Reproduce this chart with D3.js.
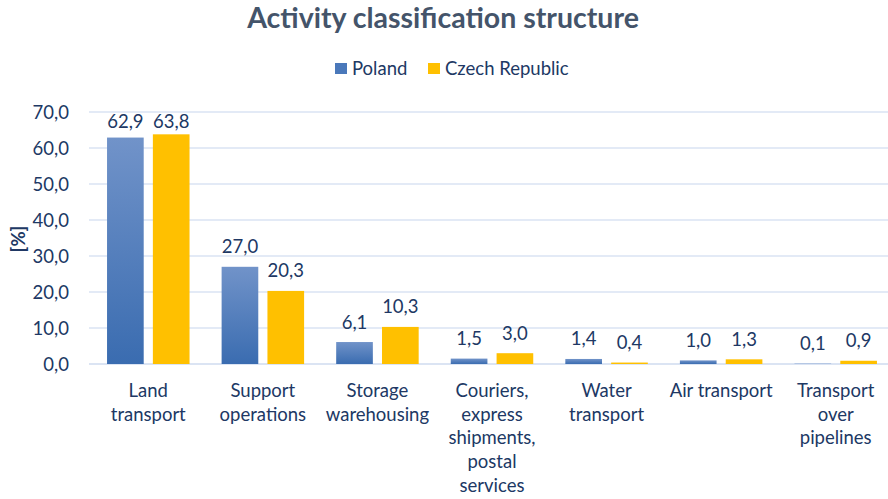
<!DOCTYPE html>
<html>
<head>
<meta charset="utf-8">
<style>
  body { margin: 0; background: #fff; }
  svg { font-family: Lato, "Noto Sans", sans-serif; }
  .title { fill: #44546a; font-weight: bold; font-size: 28.5px; text-anchor: middle; }
  .tick-lbl, .val, .cat, .leg { fill: #203864; font-size: 18.5px; }
</style>
</head>
<body>
<script src="https://d3js.org/d3.v7.min.js"></script>
<script>
var categories = [
  ["Land", "transport"],
  ["Support", "operations"],
  ["Storage", "warehousing"],
  ["Couriers,", "express", "shipments,", "postal", "services"],
  ["Water", "transport"],
  ["Air transport"],
  ["Transport", "over", "pipelines"]
];
var seriesNames = ["Poland", "Czech Republic"];
var poland = [62.9, 27.0, 6.1, 1.5, 1.4, 1.0, 0.1];
var czech = [63.8, 20.3, 10.3, 3.0, 0.4, 1.3, 0.9];
var yTicks = [0, 10, 20, 30, 40, 50, 60, 70];

var W = 888, H = 499;
var plot = {left: 91, right: 893, top: 112, bottom: 364};

var svg = d3.select("body").append("svg")
    .attr("width", W).attr("height", H);

var defs = svg.append("defs");
var grad = defs.append("linearGradient").attr("id", "blueGrad")
    .attr("x1", 0).attr("y1", 0).attr("x2", 0).attr("y2", 1);
grad.append("stop").attr("offset", "0%").attr("stop-color", "#7193c9");
grad.append("stop").attr("offset", "100%").attr("stop-color", "#3a6cb0");

var idx = d3.range(categories.length);
var x = d3.scaleBand().domain(idx).range([plot.left, plot.right]).paddingInner(0.28).paddingOuter(0.14);
var x1 = d3.scaleBand().domain([0, 1]).range([0, x.bandwidth()]).paddingInner(0.2);
var y = d3.scaleLinear().domain([0, 70]).range([plot.bottom, plot.top]);
var colors = ["url(#blueGrad)", "#ffc000"];
var fmt = function(v) { return v.toFixed(1).replace(".", ","); };

// title
svg.append("text").attr("class", "title").attr("x", 443).attr("y", 28)
    .text("Activity classification structure");

// legend
var leg = svg.append("g");
var legX = [335, 428];
seriesNames.forEach(function(n, i) {
  leg.append("rect").attr("x", legX[i]).attr("y", 63).attr("width", 12).attr("height", 11)
     .attr("fill", i === 0 ? "#4a78ba" : "#ffc000");
  leg.append("text").attr("class", "leg").attr("x", legX[i] + 17).attr("y", 75).text(n);
});

// gridlines
svg.append("g").selectAll("line").data(yTicks).join("line")
    .attr("x1", plot.left - 2).attr("x2", W)
    .attr("y1", function(d) { return y(d); }).attr("y2", function(d) { return y(d); })
    .attr("stroke", function(d) { return d === 0 ? "#cfdbef" : "#dae3f3"; })
    .attr("stroke-width", 1.5);

// y tick labels
svg.append("g").selectAll("text").data(yTicks).join("text")
    .attr("class", "tick-lbl")
    .attr("x", 69).attr("y", function(d) { return y(d) + 6.5; })
    .attr("text-anchor", "end")
    .text(fmt);

// y axis title
svg.append("text").attr("transform", "translate(25,239) rotate(-90)")
    .attr("text-anchor", "middle").attr("fill", "#203864")
    .style("font-size", "18.5px").style("font-weight", "bold").text("[%]");

// bars
var series = [poland, czech];
series.forEach(function(vals, s) {
  var g = svg.append("g");
  g.selectAll("rect").data(vals).join("rect")
    .attr("x", function(d, i) { return x(i) + x1(s); })
    .attr("width", x1.bandwidth())
    .attr("y", function(d) { return y(d); })
    .attr("height", function(d) { return y(0) - y(d); })
    .attr("fill", colors[s]);
  g.selectAll("text").data(vals).join("text")
    .attr("class", "val")
    .attr("text-anchor", "middle")
    .attr("x", function(d, i) { return x(i) + x1(s) + x1.bandwidth() / 2; })
    .attr("y", function(d) { return Math.max(y(d) - 13.5, y(70) + 16); })
    .text(fmt);
});

// category labels
var cat = svg.append("g");
categories.forEach(function(lines, i) {
  var t = cat.append("text").attr("class", "cat").attr("text-anchor", "middle")
    .attr("x", x(i) + x.bandwidth() / 2).attr("y", 397);
  lines.forEach(function(l, j) {
    t.append("tspan").attr("x", x(i) + x.bandwidth() / 2).attr("dy", j === 0 ? 0 : 23.7).text(l);
  });
});
</script>
</body>
</html>
